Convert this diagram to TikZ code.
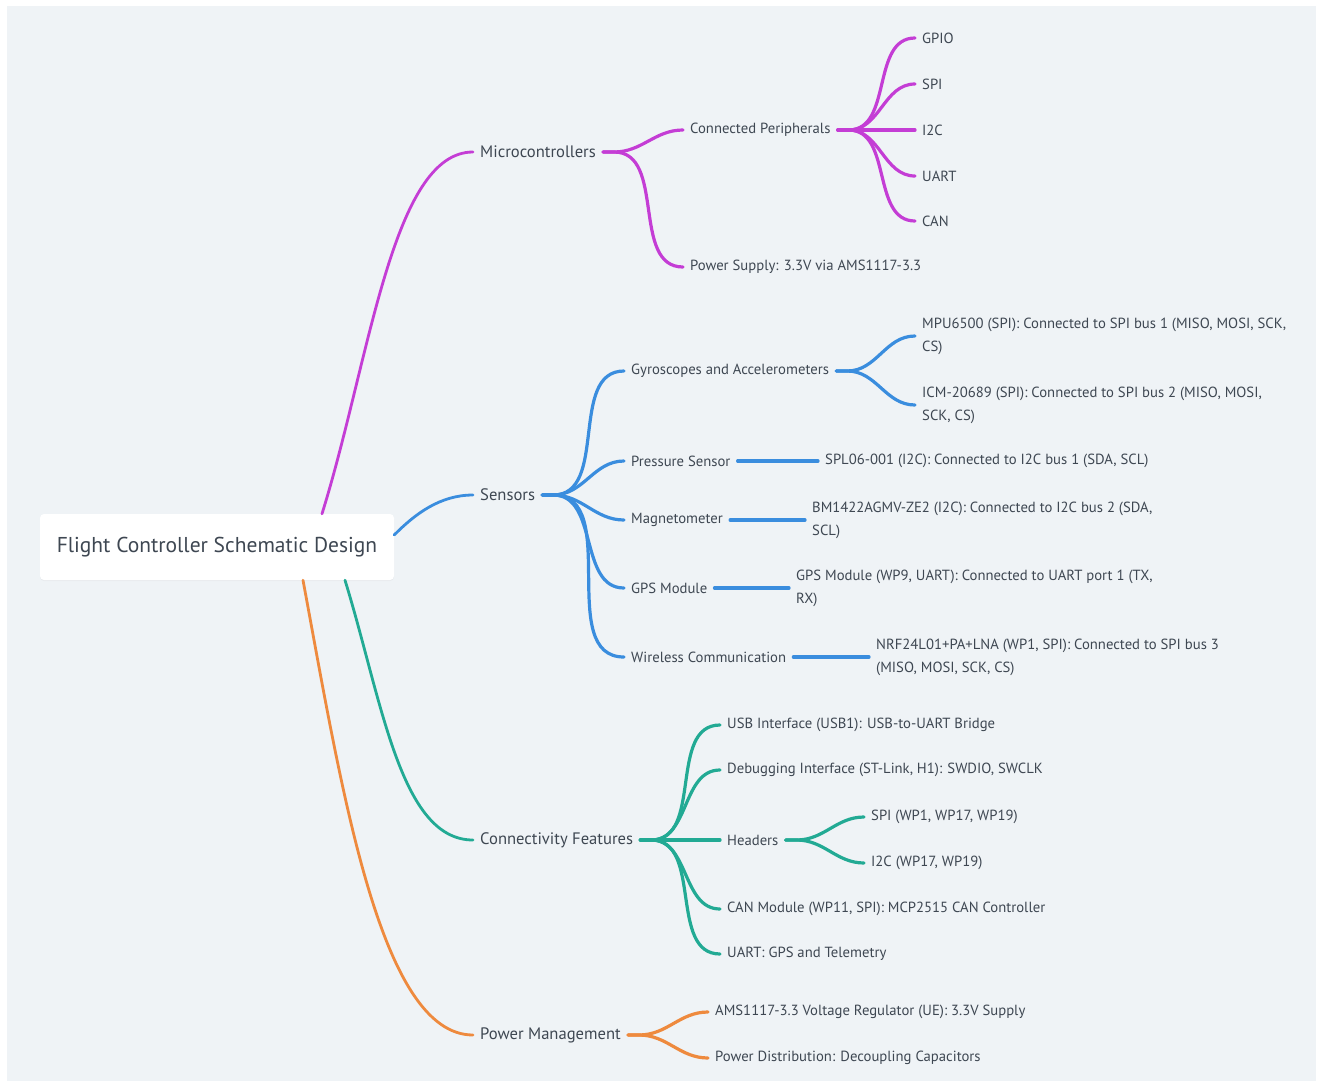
\documentclass[tikz,border=0pt]{standalone}
\usepackage{fontspec}
\setmainfont{PT Sans}
\usetikzlibrary{shadows}
\definecolor{bgc}{HTML}{EFF3F6}
\definecolor{ink}{HTML}{3E4752}
\definecolor{mcc}{HTML}{C43DD5}
\definecolor{snc}{HTML}{3A8DDE}
\definecolor{cnc}{HTML}{22AA94}
\definecolor{pwc}{HTML}{EE8A3E}

\begin{document}
\begin{tikzpicture}[
  x=1pt, y=-1pt,
  rootbox/.style={fill=white, rounded corners=4pt, minimum width=354pt, minimum height=66pt,
                  text=ink, font=\fontsize{21.5}{25}\selectfont,
                  drop shadow={opacity=0.07, shadow xshift=0pt, shadow yshift=-1pt}},
  topic/.style={anchor=west, inner xsep=7pt, inner ysep=2pt, text=ink,
                font=\fontsize{16.6}{20}\selectfont},
  leaf/.style={anchor=west, inner xsep=7pt, inner ysep=2pt, text=ink, align=left,
               font=\fontsize{14.7}{23}\selectfont},
  br/.style={line width=3.2pt, line cap=round},
  mcb/.style={br, draw=mcc},
  snb/.style={br, draw=snc},
  cnb/.style={br, draw=cnc},
  pwb/.style={br, draw=pwc},
]
\useasboundingbox (0,0) rectangle (1318,1082);
\fill[bgc] (7,6) rectangle (1316,1081);

\node[rootbox] (root) at (217,547) {Flight Controller Schematic Design};

\node[topic] (mc) at (473,152) {Microcontrollers};
\node[topic] (sen) at (473,495) {Sensors};
\node[topic] (con) at (473,840) {Connectivity Features};
\node[topic] (pwr) at (473,1035) {Power Management};

\node[leaf] (cp) at (683,130) {Connected Peripherals};
\node[leaf] (ps) at (683,267) {Power Supply: 3.3V via AMS1117-3.3};
\node[leaf] (gpio) at (915,38) {GPIO};
\node[leaf] (spi) at (915,84) {SPI};
\node[leaf] (itc) at (915,130) {I2C};
\node[leaf] (uart) at (915,176) {UART};
\node[leaf] (can) at (915,221) {CAN};

\node[leaf] (gyro) at (624,371) {Gyroscopes and Accelerometers};
\node[leaf] (pres) at (624,461) {Pressure Sensor};
\node[leaf] (mag) at (624,520) {Magnetometer};
\node[leaf] (gps) at (624,588) {GPS Module};
\node[leaf] (wls) at (624,657) {Wireless Communication};
\node[leaf] (mpu) at (915,336) {MPU6500 (SPI): Connected to SPI bus 1 (MISO, MOSI, SCK,\\CS)};
\node[leaf] (icm) at (915,405) {ICM-20689 (SPI): Connected to SPI bus 2 (MISO, MOSI,\\SCK, CS)};
\node[leaf] (spl) at (818,461) {SPL06-001 (I2C): Connected to I2C bus 1 (SDA, SCL)};
\node[leaf] (bm) at (805,520) {BM1422AGMV-ZE2 (I2C): Connected to I2C bus 2 (SDA,\\SCL)};
\node[leaf] (gpsm) at (789,588) {GPS Module (WP9, UART): Connected to UART port 1 (TX,\\RX)};
\node[leaf] (nrf) at (869,657) {NRF24L01+PA+LNA (WP1, SPI): Connected to SPI bus 3\\(MISO, MOSI, SCK, CS)};

\node[leaf] (usb) at (720,725) {USB Interface (USB1): USB-to-UART Bridge};
\node[leaf] (dbg) at (720,770) {Debugging Interface (ST-Link, H1): SWDIO, SWCLK};
\node[leaf] (hdr) at (720,840) {Headers};
\node[leaf] (canm) at (720,909) {CAN Module (WP11, SPI): MCP2515 CAN Controller};
\node[leaf] (uartg) at (720,954) {UART: GPS and Telemetry};
\node[leaf] (hspi) at (864,817) {SPI (WP1, WP17, WP19)};
\node[leaf] (hitc) at (864,863) {I2C (WP17, WP19)};

\node[leaf] (ams) at (708,1012) {AMS1117-3.3 Voltage Regulator (UE): 3.3V Supply};
\node[leaf] (pdist) at (708,1058) {Power Distribution: Decoupling Capacitors};

\draw[mcb, line width=2.8pt] ([xshift=105pt]root.north) .. controls (370,360) and (392,152) .. (mc.west);
\draw[snb, line width=2.8pt] ([yshift=12pt]root.east) .. controls (415,514) and (440,495) .. (sen.west);
\draw[cnb, line width=2.8pt] ([xshift=128pt]root.south) .. controls (382,700) and (400,840) .. (con.west);
\draw[pwb, line width=2.8pt] ([xshift=86pt]root.south) .. controls (342,790) and (380,1035) .. (pwr.west);

\foreach \c in {cp,ps}
  \draw[mcb] (mc.east) -- ++(11,0) to[out=0,in=180] (\c.west);
\foreach \c in {gpio,spi,itc,uart,can}
  \draw[mcb] (cp.east) -- ++(11,0) to[out=0,in=180] (\c.west);

\foreach \c in {gyro,pres,mag,gps,wls}
  \draw[snb] (sen.east) -- ++(11,0) to[out=0,in=180] (\c.west);
\foreach \c in {mpu,icm}
  \draw[snb] (gyro.east) -- ++(11,0) to[out=0,in=180] (\c.west);
\draw[snb] (pres) -- (spl);
\draw[snb] (mag) -- (bm);
\draw[snb] (gps) -- (gpsm);
\draw[snb] (wls) -- (nrf);

\foreach \c in {usb,dbg,hdr,canm,uartg}
  \draw[cnb] (con.east) -- ++(11,0) to[out=0,in=180] (\c.west);
\foreach \c in {hspi,hitc}
  \draw[cnb] (hdr.east) -- ++(11,0) to[out=0,in=180] (\c.west);

\foreach \c in {ams,pdist}
  \draw[pwb] (pwr.east) -- ++(11,0) to[out=0,in=180] (\c.west);
\end{tikzpicture}
\end{document}
